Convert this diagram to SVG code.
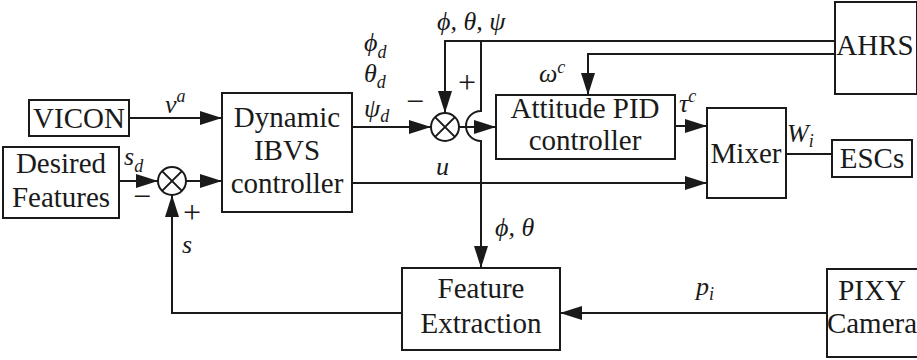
<svg xmlns="http://www.w3.org/2000/svg" width="917" height="360" viewBox="0 0 917 360">
  <style>
    .box { fill: #fff; stroke: #1a1a1a; stroke-width: 2; }
    .wire { fill: none; stroke: #1a1a1a; stroke-width: 2; }
    .sum { fill: #fff; stroke: #1a1a1a; stroke-width: 2; }
    text { font-family: "Liberation Serif", "Liberation Sans", sans-serif; fill: #1a1a1a; }
    .lbl { font-size: 29px; text-anchor: middle; }
    .math { font-style: italic; font-size: 26px; }
    .sub { font-size: 18px; }
    .sign { font-size: 32px; text-anchor: middle; }
  </style>
  <defs>
    <marker id="arrow" markerUnits="userSpaceOnUse" markerWidth="22" markerHeight="14" refX="22" refY="7" orient="auto">
      <path d="M0,0 L22,7 L0,14 z" fill="#1a1a1a"/>
    </marker>
  </defs>

  <rect width="917" height="360" fill="#fff"/>

  <!-- connectors -->
  <g id="connectors">
    <path class="wire" d="M129,118 H222" marker-end="url(#arrow)"/>
    <path class="wire" d="M119,181 H158" marker-end="url(#arrow)"/>
    <path class="wire" d="M186,181 H222" marker-end="url(#arrow)"/>
    <path class="wire" d="M402,313 H172 V195" marker-end="url(#arrow)"/>
    <path class="wire" d="M352,127 H431" marker-end="url(#arrow)"/>
    <path class="wire" d="M459,127 H496" marker-end="url(#arrow)"/>
    <path class="wire" d="M835,41 H445 V113" marker-end="url(#arrow)"/>
    <!-- attitude feedback, hopping over the error line -->
    <path class="wire" d="M481,41 V111 A15,15 0 0 0 481,141 V268" marker-end="url(#arrow)"/>
    <path class="wire" d="M835,54 H588 V95" marker-end="url(#arrow)"/>
    <path class="wire" d="M675,126 H707" marker-end="url(#arrow)"/>
    <path class="wire" d="M352,183 H707" marker-end="url(#arrow)"/>
    <path class="wire" d="M786,154 H832"/>
    <path class="wire" d="M827,313 H560" marker-end="url(#arrow)"/>
  </g>

  <!-- blocks -->
  <g id="vicon">
    <rect class="box" x="29" y="100" width="100" height="36"/>
    <text class="lbl" x="79" y="128">VICON</text>
  </g>
  <g id="desired-features">
    <rect class="box" x="3" y="147" width="116" height="71"/>
    <text class="lbl" x="61" y="173">Desired</text>
    <text class="lbl" x="61" y="207">Features</text>
  </g>
  <g id="ibvs-controller">
    <rect class="box" x="222" y="93" width="130" height="119"/>
    <text class="lbl" x="287" y="127">Dynamic</text>
    <text class="lbl" x="287" y="160">IBVS</text>
    <text class="lbl" x="287" y="193">controller</text>
  </g>
  <g id="attitude-pid">
    <rect class="box" x="496" y="95" width="179" height="64"/>
    <text class="lbl" x="585" y="118">Attitude PID</text>
    <text class="lbl" x="585" y="150">controller</text>
  </g>
  <g id="mixer">
    <rect class="box" x="707" y="108" width="79" height="90"/>
    <text class="lbl" x="746" y="163">Mixer</text>
  </g>
  <g id="escs">
    <rect class="box" x="832" y="140" width="80" height="37"/>
    <text class="lbl" x="872" y="168">ESCs</text>
  </g>
  <g id="ahrs">
    <rect class="box" x="835" y="2" width="82" height="92"/>
    <text class="lbl" x="875" y="55">AHRS</text>
  </g>
  <g id="feature-extraction">
    <rect class="box" x="402" y="268" width="158" height="82"/>
    <text class="lbl" x="481" y="298">Feature</text>
    <text class="lbl" x="481" y="333">Extraction</text>
  </g>
  <g id="pixy-camera">
    <rect class="box" x="827" y="269" width="100" height="88"/>
    <text class="lbl" x="872" y="300">PIXY</text>
    <text class="lbl" x="872" y="333" font-size="28">Camera</text>
  </g>

  <!-- summing junctions -->
  <g id="sum-features">
    <circle class="sum" cx="172" cy="181" r="14"/>
    <path class="wire" d="M162.1,171.1 L181.9,190.9 M181.9,171.1 L162.1,190.9"/>
    <text class="sign" x="142" y="207">−</text>
    <text class="sign" x="192" y="223">+</text>
  </g>
  <g id="sum-attitude">
    <circle class="sum" cx="445" cy="127" r="14"/>
    <path class="wire" d="M435.1,117.1 L454.9,136.9 M454.9,117.1 L435.1,136.9"/>
    <text class="sign" x="415" y="112">−</text>
    <text class="sign" x="467" y="93">+</text>
  </g>

  <!-- signal labels -->
  <g id="labels">
    <text class="math" x="165" y="113">v<tspan class="sub" dy="-11">a</tspan></text>
    <text class="math" x="124" y="165">s<tspan class="sub" dy="7">d</tspan></text>
    <text class="math" x="182" y="253">s</text>
    <text class="math" x="364" y="51">ϕ<tspan class="sub" dy="7">d</tspan></text>
    <text class="math" x="364" y="82">θ<tspan class="sub" dy="6">d</tspan></text>
    <text class="math" x="364" y="117">ψ<tspan class="sub" dy="5">d</tspan></text>
    <text class="math" x="437" y="30">ϕ, θ, ψ</text>
    <text class="math" x="436" y="175">u</text>
    <text class="math" x="539" y="82">ω<tspan class="sub" dy="-9">c</tspan></text>
    <text class="math" x="679" y="112">τ<tspan class="sub" dy="-10">c</tspan></text>
    <text class="math" x="787" y="142">W<tspan class="sub" dy="5">i</tspan></text>
    <text class="math" x="495" y="236">ϕ, θ</text>
    <text class="math" x="696" y="295">p<tspan class="sub" dy="5">i</tspan></text>
  </g>
</svg>
